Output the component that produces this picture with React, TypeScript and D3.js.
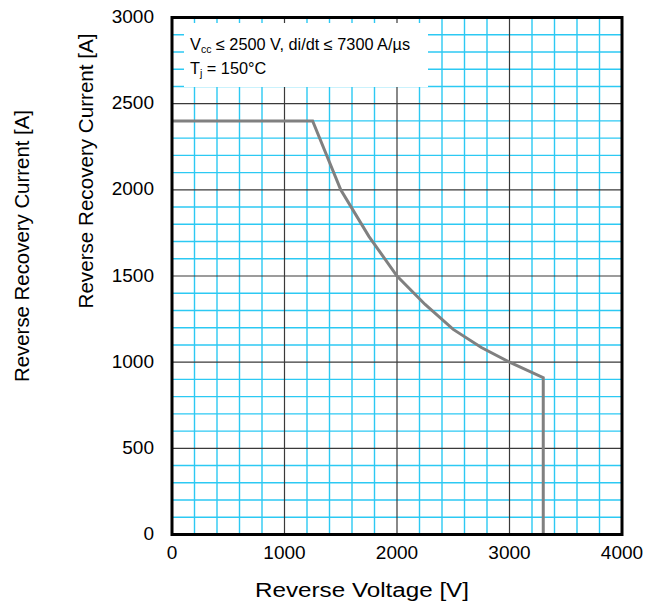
import React from 'react'
import * as d3 from 'd3'

// reverse voltage [V] / reverse recovery current [A]
const voltage = [0, 1250, 1500, 1750, 2000, 2250, 2500, 2750, 3000, 3300, 3300]
const current = [2400, 2400, 2000, 1730, 1500, 1335, 1190, 1085, 1000, 910, 0]

const xTicks = [0, 1000, 2000, 3000, 4000]
const yTicks = [0, 500, 1000, 1500, 2000, 2500, 3000]
const xMinor = d3.range(0, 4001, 200)
const yMinor = d3.range(0, 3001, 100)

const width = 656
const height = 612
const margin = { top: 17.5, right: 34, bottom: 77.5, left: 172 }

export default function App() {
  const x = d3.scaleLinear().domain([0, 4000]).range([margin.left, width - margin.right])
  const y = d3.scaleLinear().domain([0, 3000]).range([height - margin.bottom, margin.top])

  const pts: [number, number][] = voltage.map((v, i) => [v, current[i]])
  const line = d3.line<[number, number]>()
    .x(d => x(d[0]))
    .y(d => y(d[1]))

  const font = '"Liberation Sans", Arial, sans-serif'
  const x0 = x(0), x1 = x(4000), y0 = y(0), y1 = y(3000)

  return (
    <svg width={width} height={height} style={{ position: 'absolute', left: 0, top: 0 }} fontFamily={font}>
      <rect x={0} y={0} width={width} height={height} fill="#fff" />
      {/* minor grid */}
      {xMinor.filter(v => v % 1000 !== 0).map(v => (
        <line key={'xm' + v} x1={x(v)} x2={x(v)} y1={y0} y2={y1} stroke="#2cc9f3" strokeWidth={1.4} />
      ))}
      {yMinor.filter(v => v % 500 !== 0).map(v => (
        <line key={'ym' + v} x1={x0} x2={x1} y1={y(v)} y2={y(v)} stroke="#2cc9f3" strokeWidth={1.4} />
      ))}
      {/* major grid */}
      {xTicks.filter(v => v > 0 && v < 4000).map(v => (
        <line key={'xM' + v} x1={x(v)} x2={x(v)} y1={y0} y2={y1} stroke="#3a3a3a" strokeWidth={1.2} />
      ))}
      {yTicks.filter(v => v > 0 && v < 3000).map(v => (
        <line key={'yM' + v} x1={x0} x2={x1} y1={y(v)} y2={y(v)} stroke="#3a3a3a" strokeWidth={1.2} />
      ))}

      {/* legend box */}
      <rect x={184} y={23} width={244} height={64} fill="#fff" />
      <text x={190} y={50} fontSize={16.3}>
        V<tspan fontSize={10.5} dy={3}>cc</tspan><tspan dy={-3}> ≤ 2500 V, di/dt ≤ 7300 A/µs</tspan>
      </text>
      <text x={190} y={74} fontSize={16.3}>
        T<tspan fontSize={10.5} dy={3}>j</tspan><tspan dy={-3}> = 150°C</tspan>
      </text>

      {/* curve */}
      <path d={line(pts) ?? ''} fill="none" stroke="#808080" strokeWidth={3} strokeLinejoin="miter" />

      {/* frame */}
      <rect x={x0} y={y1} width={x1 - x0} height={y0 - y1} fill="none" stroke="#000" strokeWidth={3} />

      {/* tick labels */}
      {xTicks.map(v => (
        <text key={'xl' + v} x={x(v)} y={y0 + 24.5} fontSize={19} textAnchor="middle">{v}</text>
      ))}
      {yTicks.map(v => (
        <text key={'yl' + v} x={154} y={y(v) + 5.5} fontSize={19} textAnchor="end">{v}</text>
      ))}

      {/* axis titles */}
      <text x={362} y={597} fontSize={20} textAnchor="middle" textLength={214} lengthAdjust="spacingAndGlyphs">Reverse Voltage [V]</text>
      <text transform="translate(93,171) rotate(-90)" fontSize={20} textAnchor="middle" textLength={275} lengthAdjust="spacingAndGlyphs">Reverse Recovery Current [A]</text>
      <text transform="translate(28.5,246) rotate(-90)" fontSize={20} textAnchor="middle" textLength={272} lengthAdjust="spacingAndGlyphs">Reverse Recovery Current [A]</text>
    </svg>
  )
}
